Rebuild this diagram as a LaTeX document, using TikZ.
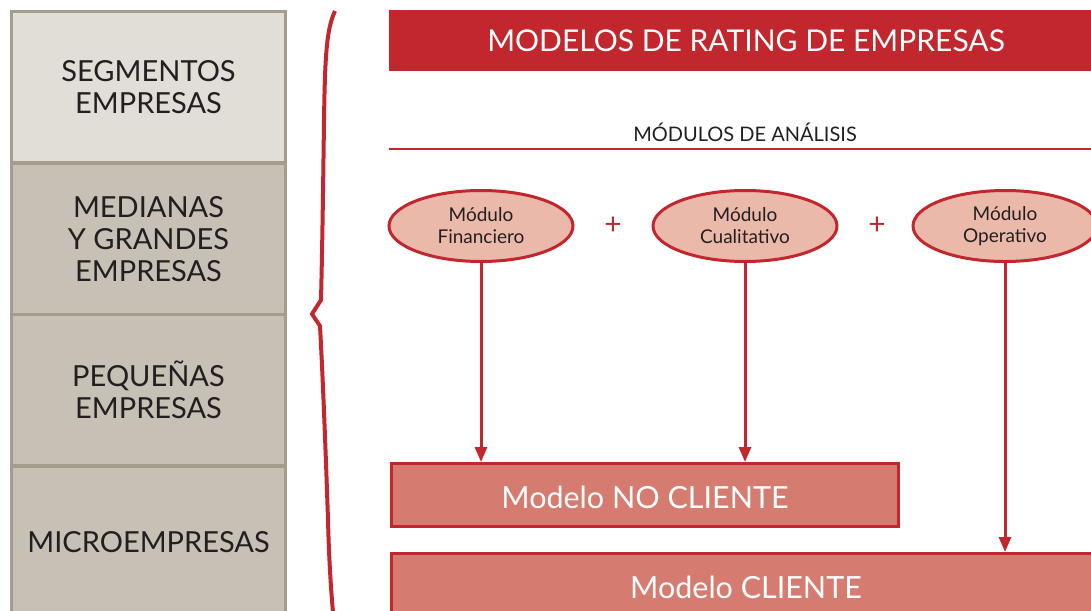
\documentclass[tikz,border=0pt]{standalone}
\usepackage{fontspec}
\setmainfont{Lato}
\usetikzlibrary{arrows.meta,shapes.geometric}
\definecolor{rojo}{HTML}{C1272D}
\definecolor{rosa}{HTML}{EBB9AA}
\definecolor{salmon}{HTML}{D67B6F}
\definecolor{grisclaro}{HTML}{E1DDD7}
\definecolor{gris}{HTML}{C6C0B5}
\definecolor{grisborde}{HTML}{A59D8B}
\definecolor{tinta}{HTML}{231F20}
\tikzset{
  segbox/.style={draw=grisborde, line width=3pt, fill=gris, minimum width=274pt, minimum height=151pt,
    align=center, text=tinta, font=\fontsize{29}{32}\selectfont, inner sep=0pt},
  modulo/.style={ellipse, draw=rojo, line width=3pt, fill=rosa, minimum width=184pt, minimum height=71pt,
    align=center, text=tinta, font=\fontsize{19}{22}\selectfont, inner sep=0pt},
  modelo/.style={draw=rojo, line width=3pt, fill=salmon, inner sep=0pt},
  modelotxt/.style={text=white, font=\fontsize{30.5}{34}\selectfont},
  flecha/.style={draw=rojo, line width=3pt, -{Triangle[length=15pt,width=12pt]}},
  mas/.style={text=rojo, font=\fontsize{30}{30}\selectfont}
}
\begin{document}
\begin{tikzpicture}[x=1pt,y=-1pt]
\useasboundingbox (0,0) rectangle (1091,610);
\clip (0,0) rectangle (1091,610);
% column of company segments
\node[segbox, fill=grisclaro, anchor=north west] (s1) at (10,10) {SEGMENTOS\\EMPRESAS};
\node[segbox, anchor=north west] (s2) at (10,162) {MEDIANAS\\Y GRANDES\\EMPRESAS};
\node[segbox, anchor=north west] (s3) at (10,313) {PEQUEÑAS\\EMPRESAS};
\node[segbox, anchor=north west] (s4) at (10,465) {MICROEMPRESAS};
% curly brace
\draw[rojo, line width=4pt, line join=miter]
  (335,11) .. controls (326,30) and (325,60) .. (324,120)
  .. controls (323,200) and (322,260) .. (321,300)
  -- (312,314) -- (320,326)
  .. controls (323,380) and (326,460) .. (328,520)
  .. controls (329,560) and (331,590) .. (333,612);
% title bar
\node[fill=rojo, minimum width=720pt, minimum height=61pt, anchor=north west, inner sep=0pt] (tit) at (389,10) {};
\node[text=white, font=\fontsize{30}{34}\selectfont] (titt) at (746,41) {MODELOS DE RATING DE EMPRESAS};
\node[text=tinta, font=\fontsize{20}{22}\selectfont] (sub) at (745,132) {MÓDULOS DE ANÁLISIS};
\coordinate (l1) at (389,149);
\coordinate (l2) at (1091,149);
\draw[rojo, line width=2.5pt] (l1) -- (l2);
% analysis modules
\node[modulo] (m1) at (481,226) {Módulo\\Financiero};
\node[modulo] (m2) at (745,226) {Módulo\\Cualitativo};
\node[modulo] (m3) at (1005,226) {Módulo\\Operativo};
\node[mas] (p1) at (613,226) {+};
\node[mas] (p2) at (877,226) {+};
% resulting models
\node[modelo, minimum width=507pt, minimum height=63pt, anchor=north west] (nc) at (390,462) {};
\node[modelotxt] (nct) at (645,497) {Modelo NO CLIENTE};
\node[modelo, minimum width=720pt, minimum height=70pt, anchor=north west] (cl) at (390,552) {};
\node[modelotxt] (clt) at (746,587) {Modelo CLIENTE};
% connectors
\draw[flecha] (m1.south) -- (m1.south |- nc.north);
\draw[flecha] (m2.south) -- (m2.south |- nc.north);
\draw[flecha] (m3.south) -- (m3.south |- cl.north);
\end{tikzpicture}
\end{document}
